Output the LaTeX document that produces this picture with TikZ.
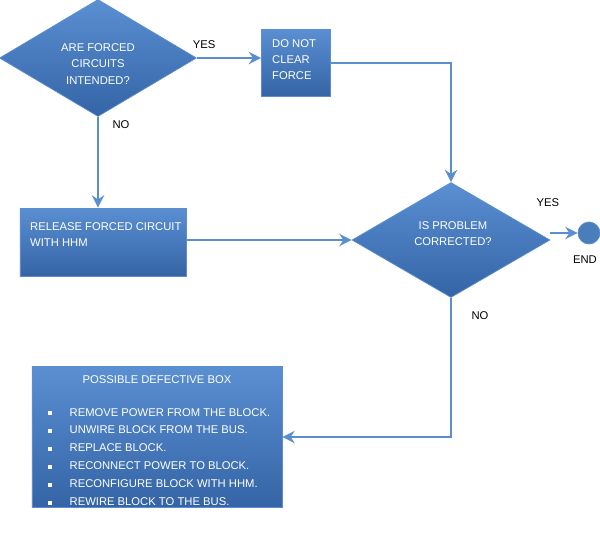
\documentclass[tikz,border=0pt]{standalone}
\usepackage{fontspec}
\setmainfont{Liberation Sans}
\usetikzlibrary{shapes.geometric, arrows.meta}
\definecolor{flowblue}{HTML}{4A7EBB}
\definecolor{flowtop}{HTML}{5A8FD2}
\definecolor{flowbot}{HTML}{3464A6}
\definecolor{flowline}{HTML}{5B8ED0}

\newcommand{\sqbullet}{\rule[0.5pt]{2.2pt}{2.2pt}\hspace{10pt}}

\tikzset{
  blockbox/.style={rectangle, draw=flowline, top color=flowtop, bottom color=flowbot, inner sep=0pt},
  decision/.style={diamond, draw=flowline, top color=flowtop, bottom color=flowbot, inner sep=0pt},
  flowtext/.style={text=white, font=\fontsize{6.4}{9.2}\selectfont, align=center},
  flowlabel/.style={font=\fontsize{6.4}{8}\selectfont},
  flowarrow/.style={draw=flowline, line width=1.3pt, -{Stealth[length=7pt, width=7pt]}}
}

\begin{document}
\begin{tikzpicture}[x=0.02cm, y=-0.02cm]
  \useasboundingbox (0,0) rectangle (600,538);

  % Shapes
  \node[decision, minimum width=197*0.02cm, minimum height=117*0.02cm] (intended) at (98,58) {};
  \node[flowtext] (intendedtxt) at (98,64) {ARE FORCED\\CIRCUITS\\INTENDED?};
  \node[blockbox, minimum width=69*0.02cm, minimum height=67*0.02cm] (noclear) at (296,63) {};
  \node[flowtext, align=left, anchor=north west] (noclrtxt) at (266,33) {DO NOT\\CLEAR\\FORCE};
  \node[decision, minimum width=198*0.02cm, minimum height=115*0.02cm] (corrected) at (451,240) {};
  \node[flowtext] (correctedtxt) at (453,234) {IS PROBLEM\\CORRECTED?};
  \node[circle, draw=flowline, fill=flowblue, minimum size=22*0.02cm, inner sep=0pt] (end) at (589,233) {};
  \node[blockbox, minimum width=166*0.02cm, minimum height=68*0.02cm] (release) at (103,242) {};
  \node[flowtext, align=left, anchor=north west] (releasetxt) at (24,216) {RELEASE FORCED CIRCUIT\\WITH HHM};
  \node[blockbox, minimum width=250*0.02cm, minimum height=141*0.02cm] (defective) at (157,437) {};
  \node[flowtext] (deftitle) at (157,380) {POSSIBLE DEFECTIVE BOX};
  \node[flowtext, align=left, anchor=north west, font=\fontsize{6.4}{10.2}\selectfont] (deflist) at (42,402)
    {\sqbullet REMOVE POWER FROM THE BLOCK.\\
     \sqbullet UNWIRE BLOCK FROM THE BUS.\\
     \sqbullet REPLACE BLOCK.\\
     \sqbullet RECONNECT POWER TO BLOCK.\\
     \sqbullet RECONFIGURE BLOCK WITH HHM.\\
     \sqbullet REWIRE BLOCK TO THE BUS.};

  % Connectors
  \draw[flowarrow] (intended.east) -- (noclear.west |- intended.east);
  \draw[flowarrow] (noclear.east) -| (corrected.north);
  \draw[flowarrow] (intended.south) -- (release.north -| intended.south);
  \draw[flowarrow] (release.east |- corrected.west) -- (corrected.west);
  \draw[flowarrow] (corrected.east |- end.west) -- (end.west);
  \draw[flowarrow] (corrected.south) |- (defective.east);

  % Labels
  \node[flowlabel] (yesone) at (204,45) {YES};
  \node[flowlabel] (noone) at (121,125) {NO};
  \node[flowlabel] (yestwo) at (548,203) {YES};
  \node[flowlabel] (endlbl) at (585,260) {END};
  \node[flowlabel] (notwo) at (480,316) {NO};
\end{tikzpicture}
\end{document}
